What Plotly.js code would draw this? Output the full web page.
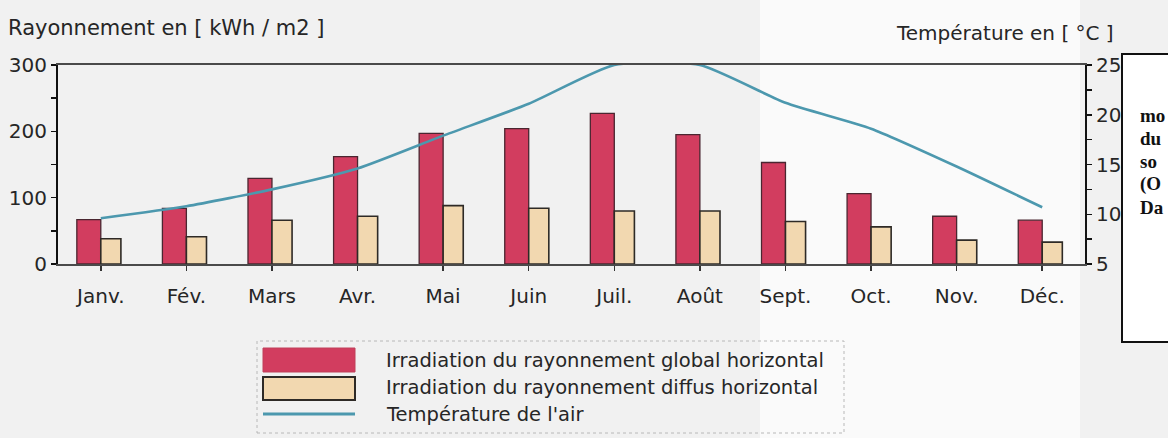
<!DOCTYPE html>
<html>
<head>
<meta charset="utf-8">
<script src="https://cdn.plot.ly/plotly-3.0.1.min.js"></script>
<style>
  html, body { margin: 0; padding: 0; background: #f1f1f1; }
  #chart { width: 1168px; height: 438px; }
</style>
</head>
<body>
<div id="chart"></div>
<script>
// ---- data ----
const months = ['Janv.', 'Fév.', 'Mars', 'Avr.', 'Mai', 'Juin', 'Juil.', 'Août', 'Sept.', 'Oct.', 'Nov.', 'Déc.'];
const globalIrradiation = [67, 84, 129, 162, 197, 204, 227, 195, 153, 106, 72, 66];
const diffuseIrradiation = [38, 41, 66, 72, 88, 84, 80, 80, 64, 56, 36, 33];
const airTemperature = [9.6, 10.8, 12.5, 14.6, 17.9, 21.1, 25, 25, 21.2, 18.6, 14.8, 10.7];
const leftTicks = [0, 100, 200, 300];
const rightTicks = [5, 10, 15, 20, 25];
const seriesNames = [
  'Irradiation du rayonnement global horizontal',
  'Irradiation du rayonnement diffus horizontal',
  "Température de l'air"
];
const leftTitle = 'Rayonnement en [ kWh / m2 ]';
const rightTitle = 'Température en [ °C ]';
const sideNote = ['mo', 'du', 'so', '(O', 'Da'];

// ---- layout helpers (pixel -> paper) ----
const W = 1168, H = 438;
const L = 58, R = 1085, T = 65, B = 264;
const px = x => (x - L) / (R - L);
const py = y => (B - y) / (B - T);

const RED = '#d23d5f';
const PEACH = '#f2d8b0';
const TEAL = '#4c98ae';
const FONT = 'DejaVu Sans, Liberation Sans, Arial, sans-serif';
const TXT = '#262626';

const traces = [
  {
    type: 'bar', x: months, y: globalIrradiation, name: seriesNames[0],
    width: 0.28, offset: -0.28,
    marker: { color: RED, line: { color: '#4a2630', width: 1.3 } },
    yaxis: 'y', showlegend: false, hoverinfo: 'skip'
  },
  {
    type: 'bar', x: months, y: diffuseIrradiation, name: seriesNames[1],
    width: 0.235, offset: 0,
    marker: { color: PEACH, line: { color: '#2e2a26', width: 1.6 } },
    yaxis: 'y', showlegend: false, hoverinfo: 'skip'
  },
  {
    type: 'scatter', mode: 'lines', x: months, y: airTemperature, name: seriesNames[2],
    line: { color: TEAL, width: 2.6, shape: 'spline', smoothing: 0.55 },
    yaxis: 'y2', showlegend: false, hoverinfo: 'skip'
  }
];

const tickFont = { family: FONT, size: 20, color: TXT };

const shapes = [
  // whiter scan band
  { type: 'rect', xref: 'paper', yref: 'paper', x0: px(760), x1: px(1080), y0: py(H), y1: py(0),
    fillcolor: '#fafafa', line: { width: 0 }, layer: 'below' },
  // legend frame
  { type: 'rect', xref: 'paper', yref: 'paper', x0: px(257), x1: px(844), y0: py(433), y1: py(341),
    fillcolor: 'rgba(0,0,0,0)', line: { color: '#b8b8b8', width: 1, dash: 'dot' } },
  // legend swatches
  { type: 'rect', xref: 'paper', yref: 'paper', x0: px(263), x1: px(355), y0: py(372), y1: py(348),
    fillcolor: RED, line: { color: '#c0405a', width: 1 } },
  { type: 'rect', xref: 'paper', yref: 'paper', x0: px(263), x1: px(355), y0: py(400), y1: py(377),
    fillcolor: PEACH, line: { color: '#2e2a26', width: 2 } },
  { type: 'line', xref: 'paper', yref: 'paper', x0: px(263), x1: px(355), y0: py(414), y1: py(414),
    line: { color: TEAL, width: 3 } },
  // side note box (cut by page edge)
  { type: 'rect', xref: 'paper', yref: 'paper', x0: px(1122), x1: px(1200), y0: py(342), y1: py(54),
    fillcolor: '#ffffff', line: { color: '#111', width: 2 } }
];

const annotations = [
  { xref: 'paper', yref: 'paper', x: px(6), y: py(28), xanchor: 'left', yanchor: 'middle',
    text: leftTitle, showarrow: false, font: { family: FONT, size: 21, color: TXT } },
  { xref: 'paper', yref: 'paper', x: px(1116), y: py(33), xanchor: 'right', yanchor: 'middle',
    text: rightTitle, showarrow: false, font: { family: FONT, size: 20, color: TXT } }
];
const legendY = [360, 387, 414];
seriesNames.forEach((n, i) => annotations.push({
  xref: 'paper', yref: 'paper', x: px(384), y: py(legendY[i]), xanchor: 'left', yanchor: 'middle',
  text: n, showarrow: false, font: { family: FONT, size: 19.5, color: TXT }
}));
const noteY = [115, 138, 161, 184, 207];
sideNote.forEach((t, i) => annotations.push({
  xref: 'paper', yref: 'paper', x: px(1138), y: py(noteY[i]), xanchor: 'left', yanchor: 'middle',
  text: t, showarrow: false, font: { family: 'Liberation Serif, Times New Roman, serif', size: 19, color: '#111', weight: 'bold' }
}));

const layout = {
  width: W, height: H,
  margin: { l: L, r: W - R, t: T, b: H - B, pad: 0 },
  paper_bgcolor: '#f1f1f1',
  plot_bgcolor: 'rgba(0,0,0,0)',
  barmode: 'overlay',
  showlegend: false,
  xaxis: {
    type: 'category', range: [-0.5, 11.5], fixedrange: true,
    showgrid: false, zeroline: false,
    showline: true, linecolor: '#4a4a4a', linewidth: 2, mirror: true,
    ticks: 'outside', ticklen: 5, tickwidth: 1.5, tickcolor: '#333',
    ticklabelstandoff: 8,
    tickfont: tickFont
  },
  yaxis: {
    range: [0, 300], tickvals: leftTicks, ticktext: leftTicks.map(String),
    showgrid: false, zeroline: false,
    showline: true, linecolor: '#111', linewidth: 2,
    ticks: 'outside', ticklen: 5, tickwidth: 1.5, tickcolor: '#111',
    minor: { dtick: 50, ticks: 'outside', ticklen: 5, tickwidth: 1.5, tickcolor: '#111' },
    ticklabelstandoff: 0,
    tickfont: tickFont
  },
  yaxis3: {
    overlaying: 'y', side: 'left', range: [0, 300], dtick: 50,
    showgrid: false, zeroline: false, showline: false, showticklabels: false,
    ticks: 'inside', ticklen: 5, tickwidth: 1.5, tickcolor: '#111'
  },
  yaxis2: {
    overlaying: 'y', side: 'right', range: [5, 25], tickvals: rightTicks, ticktext: rightTicks.map(String),
    showgrid: false, zeroline: false,
    showline: true, linecolor: '#111', linewidth: 2,
    ticks: 'outside', ticklen: 5, tickwidth: 1.5, tickcolor: '#111',
    minor: { dtick: 2.5, ticks: 'outside', ticklen: 5, tickwidth: 1.5, tickcolor: '#111' },
    ticklabelstandoff: 0,
    tickfont: tickFont
  },
  yaxis4: {
    overlaying: 'y', side: 'right', range: [5, 25], dtick: 2.5,
    showgrid: false, zeroline: false, showline: false, showticklabels: false,
    ticks: 'inside', ticklen: 5, tickwidth: 1.5, tickcolor: '#111'
  },
  shapes: shapes,
  annotations: annotations
};

Plotly.newPlot('chart', traces, layout, { staticPlot: true, displayModeBar: false });
</script>
</body>
</html>
